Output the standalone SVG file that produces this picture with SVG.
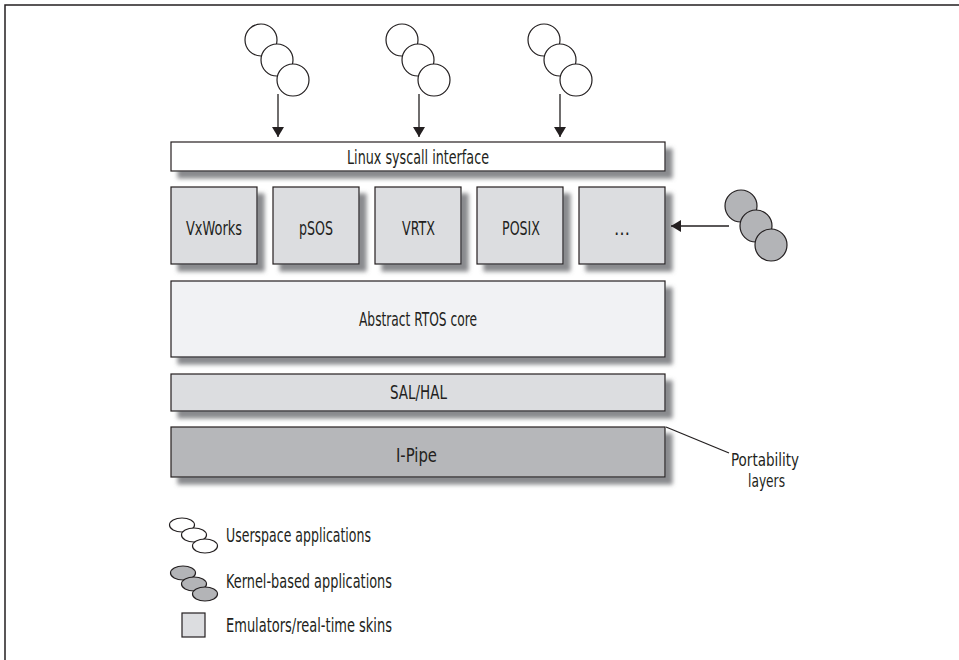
<svg xmlns="http://www.w3.org/2000/svg" width="959" height="660" viewBox="0 0 959 660">
<style>
.t{font-family:"DejaVu Sans Condensed","Liberation Sans Narrow","Liberation Sans",sans-serif;font-stretch:condensed;font-size:20px;fill:#231f20}
.s{font-size:18px}
.box{stroke:#231f20;stroke-width:1.2}
.sh{filter:url(#ds)}
.ln{stroke:#231f20;stroke-width:1.3;fill:none}
.uc{fill:#fff;stroke:#231f20;stroke-width:1.2}
.kc{fill:#b3b4b7;stroke:#231f20;stroke-width:1.2}
</style>
<defs>
<filter id="ds" x="-10%" y="-10%" width="130%" height="150%">
<feDropShadow dx="7" dy="7" stdDeviation="2.2" flood-color="#7d7e82" flood-opacity="0.9"/>
</filter>
<marker id="ah" viewBox="0 0 10 12" refX="10" refY="6" markerWidth="10" markerHeight="12" markerUnits="userSpaceOnUse" orient="auto">
<path d="M0,0 L10,6 L0,12 Z" fill="#231f20"/>
</marker>
</defs>
<rect width="959" height="660" fill="#fff"/>
<path d="M5,660 V5 H959" fill="none" stroke="#231f20" stroke-width="1.5"/>

<g id="syscall"><rect class="box sh" x="171" y="142" width="494" height="29" fill="#ffffff"/><text class="t" x="347" y="164" textLength="142" lengthAdjust="spacingAndGlyphs">Linux syscall interface</text></g>
<g id="vxworks"><rect class="box sh" x="171" y="187" width="86" height="77" fill="#dcdde0"/><text class="t" x="186" y="235" textLength="56" lengthAdjust="spacingAndGlyphs">VxWorks</text></g>
<g id="psos"><rect class="box sh" x="273" y="187" width="86" height="77" fill="#dcdde0"/><text class="t" x="299" y="235" textLength="34" lengthAdjust="spacingAndGlyphs">pSOS</text></g>
<g id="vrtx"><rect class="box sh" x="375" y="187" width="86" height="77" fill="#dcdde0"/><text class="t" x="402" y="235" textLength="33" lengthAdjust="spacingAndGlyphs">VRTX</text></g>
<g id="posix"><rect class="box sh" x="477" y="187" width="86" height="77" fill="#dcdde0"/><text class="t" x="502" y="235" textLength="38" lengthAdjust="spacingAndGlyphs">POSIX</text></g>
<g id="more"><rect class="box sh" x="579" y="187" width="86" height="77" fill="#dcdde0"/><text class="t" x="614" y="235" textLength="16" lengthAdjust="spacingAndGlyphs">…</text></g>
<g id="core"><rect class="box sh" x="171" y="281" width="494" height="76" fill="#f1f2f4"/><text class="t" x="359" y="326" textLength="118" lengthAdjust="spacingAndGlyphs">Abstract RTOS core</text></g>
<g id="salhal"><rect class="box sh" x="171" y="374" width="494" height="37" fill="#dcdde0"/><text class="t" x="390" y="399" textLength="57" lengthAdjust="spacingAndGlyphs">SAL/HAL</text></g>
<g id="ipipe"><rect class="box sh" x="171" y="427" width="494" height="50" fill="#b6b7ba"/><text class="t" x="396" y="462" textLength="41" lengthAdjust="spacingAndGlyphs">I-Pipe</text></g>

<g id="user1"><circle class="uc" cx="261" cy="40" r="16"/><circle class="uc" cx="277" cy="60" r="16"/><circle class="uc" cx="293" cy="80" r="16"/></g>
<g id="user2"><circle class="uc" cx="402" cy="40" r="16"/><circle class="uc" cx="418" cy="60" r="16"/><circle class="uc" cx="434" cy="80" r="16"/></g>
<g id="user3"><circle class="uc" cx="544" cy="40" r="16"/><circle class="uc" cx="560" cy="60" r="16"/><circle class="uc" cx="576" cy="80" r="16"/></g>
<g id="kernel"><circle class="kc" cx="741" cy="206" r="16"/><circle class="kc" cx="756" cy="226" r="16"/><circle class="kc" cx="771" cy="245" r="16"/></g>

<g id="portability"><text class="t s" x="731" y="466" textLength="68" lengthAdjust="spacingAndGlyphs">Portability</text><text class="t s" x="748" y="487" textLength="37" lengthAdjust="spacingAndGlyphs">layers</text></g>

<g id="connectors">
<line class="ln" x1="278" y1="94" x2="278" y2="137" marker-end="url(#ah)"/>
<line class="ln" x1="419" y1="94" x2="419" y2="137" marker-end="url(#ah)"/>
<line class="ln" x1="560" y1="94" x2="560" y2="137" marker-end="url(#ah)"/>
<line class="ln" x1="729" y1="226" x2="671" y2="226" marker-end="url(#ah)"/>
<line class="ln" x1="666" y1="427" x2="729" y2="453" stroke-width="1"/>
</g>

<g id="legend">
<g id="leg-user"><ellipse class="uc" cx="182" cy="525" rx="12.5" ry="7"/><ellipse class="uc" cx="194" cy="535" rx="12.5" ry="7"/><ellipse class="uc" cx="205" cy="546" rx="12.5" ry="7"/><text class="t" x="226" y="542" textLength="145" lengthAdjust="spacingAndGlyphs">Userspace applications</text></g>
<g id="leg-kernel"><ellipse class="kc" cx="183" cy="573" rx="12.5" ry="7"/><ellipse class="kc" cx="194" cy="584" rx="12.5" ry="7"/><ellipse class="kc" cx="205" cy="594" rx="12.5" ry="7"/><text class="t" x="226" y="588" textLength="166" lengthAdjust="spacingAndGlyphs">Kernel-based applications</text></g>
<g id="leg-emu"><rect class="box" x="182" y="613" width="23" height="24" fill="#dcdde0"/><text class="t" x="226" y="632" textLength="166" lengthAdjust="spacingAndGlyphs">Emulators/real-time skins</text></g>
</g>
</svg>
